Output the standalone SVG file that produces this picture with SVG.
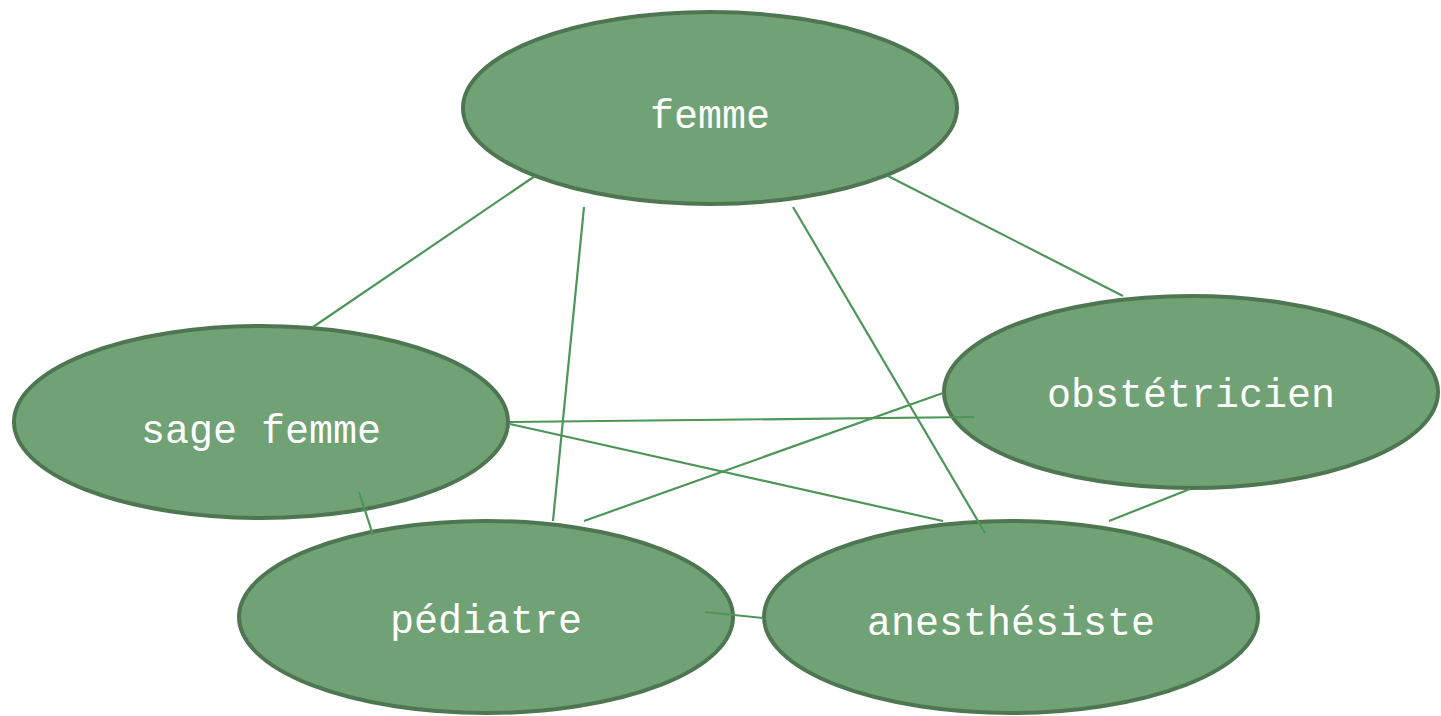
<svg xmlns="http://www.w3.org/2000/svg" width="1441" height="716" viewBox="0 0 1441 716">
<style>
.node ellipse{fill:#70a276;stroke:#4e7651;stroke-width:4}
.node text{fill:#ffffff;font-family:"Liberation Mono",monospace;font-size:40px;text-anchor:middle}
.edges line{stroke:#4e9558;stroke-width:2.2;stroke-linecap:butt}
</style>
<rect width="1441" height="716" fill="#ffffff"/>
<g id="femme" class="node"><ellipse cx="710" cy="108" rx="247" ry="96"/><text x="710" y="128">femme</text></g>
<g id="sage-femme" class="node"><ellipse cx="261" cy="422" rx="247" ry="96"/><text x="261" y="443">sage femme</text></g>
<g id="obstetricien" class="node"><ellipse cx="1191" cy="392" rx="247" ry="96"/><text x="1191" y="407">obstétricien</text></g>
<g id="pediatre" class="node"><ellipse cx="486" cy="617" rx="247" ry="96"/><text x="486" y="633">pédiatre</text></g>
<g id="anesthesiste" class="node"><ellipse cx="1011" cy="617" rx="247" ry="96"/><text x="1011" y="635">anesthésiste</text></g>
<g id="connectors" class="edges">
<line x1="535" y1="176" x2="313" y2="327"/>
<line x1="584" y1="207" x2="553" y2="521"/>
<line x1="793" y1="207" x2="985" y2="533"/>
<line x1="888" y1="176" x2="1123" y2="296"/>
<line x1="510" y1="422" x2="974" y2="417"/>
<line x1="510" y1="424" x2="943" y2="521"/>
<line x1="943" y1="393" x2="584" y2="521"/>
<line x1="1190" y1="489" x2="1109" y2="521"/>
<line x1="359" y1="492" x2="373" y2="535"/>
<line x1="705" y1="612" x2="763" y2="618"/>
</g>
</svg>
